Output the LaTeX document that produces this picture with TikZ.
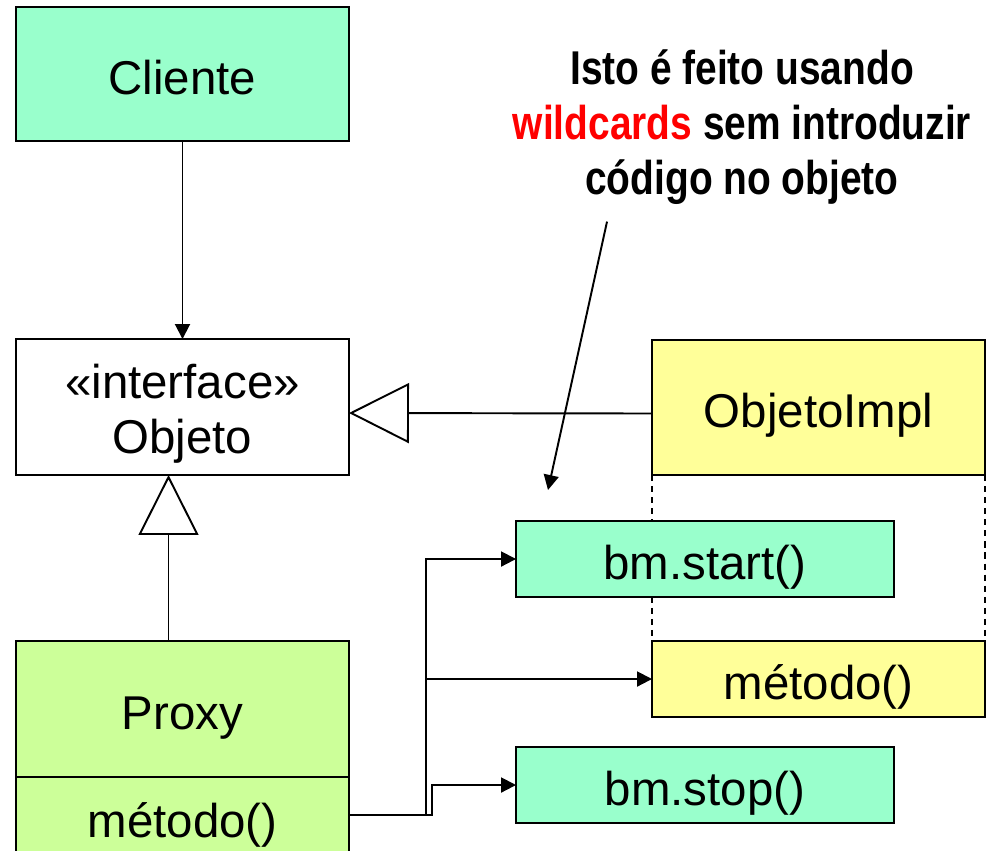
\documentclass[tikz,border=0pt]{standalone}
\usepackage{fontspec}
\setmainfont{Liberation Sans}
\newfontfamily\narrowfont[FakeStretch=0.82]{Liberation Sans}
\usepackage{xcolor}
\usetikzlibrary{arrows.meta, positioning}
\definecolor{mintfill}{HTML}{99FFCC}
\definecolor{implfill}{HTML}{FFFF99}
\definecolor{proxyfill}{HTML}{CCFF99}

\begin{document}
\begin{tikzpicture}[x=0.02cm, y=-0.02cm, line width=1.1pt,
  >={Triangle[length=0.3cm, width=0.3cm]},
  umlbox/.style={draw, line width=1.1pt, inner sep=0pt, outer sep=0pt, align=center, minimum width=6.66cm, font=\fontsize{27}{31}\selectfont},
  oneline/.style={text height=28pt, text depth=5.2pt},
  callbox/.style={draw, line width=1.1pt, inner sep=0pt, outer sep=0pt, fill=mintfill, minimum width=7.56cm, minimum height=1.52cm, oneline, font=\fontsize{27}{31}\selectfont},
  inherit/.style={-{Triangle[open, fill=white, length=1.2cm, width=1.2cm]}},
  dashline/.style={line width=1.1pt, dash pattern=on 3.5pt off 2.8pt}]
  \useasboundingbox (0,0) rectangle (990,850);
  \clip (0,0) rectangle (990,850);
  % UML classes on the left
  \node[umlbox, oneline, fill=mintfill, minimum height=2.68cm] (cliente) at (182.5,74) {Cliente};
  \node[umlbox, fill=white, minimum height=2.72cm] (iface) at (182.5,407) {\rule{0pt}{1em}«interface»\\Objeto};
  \node[umlbox, oneline, fill=proxyfill, minimum height=2.72cm] (proxy) at (182.5,709) {Proxy};
  \node[umlbox, oneline, fill=proxyfill, minimum height=1.6cm, anchor=north] (pmet) at (proxy.south) {método()};
  % implementation and its intercepted calls
  \node[umlbox, oneline, fill=implfill, minimum height=2.7cm] (impl) at (818.5,407.5) {ObjetoImpl};
  \node[umlbox, oneline, fill=implfill, minimum height=1.52cm] (impmet) at (818.5,679) {método()};
  \draw[dashline] (impl.south west) -- (impmet.north west);
  \draw[dashline] (impl.south east) -- (impmet.north east);
  \node[callbox] (start) at (705,559) {bm.start()};
  \node[callbox] (stop) at (705,785) {bm.stop()};
  % note
  \node[align=center, font=\narrowfont\bfseries\fontsize{27}{31.5}\selectfont] (note) at (742,127)
    {Isto é feito usando\\\textcolor{red}{wildcards} sem introduzir\\código no objeto};
  \coordinate (tip) at (548,490);
  % connectors
  \draw[->] (cliente) -- (iface);
  \draw[inherit] ([yshift=-0.12cm]impl.west) -- ([yshift=-0.12cm]iface.east);
  \draw[inherit] ([xshift=-0.28cm]proxy.north) -- ([xshift=-0.28cm]iface.south);
  \coordinate (fork) at (426,815);
  \draw[->] (pmet.east |- fork) -- (fork) |- (start.west);
  \draw[->] (fork |- impmet.west) -- (impmet.west);
  \draw[->] (fork) -- ++(6,0) |- (stop.west);
  \draw[->] ([xshift=-2.7cm, yshift=-0.2cm]note.south) -- (tip);
\end{tikzpicture}
\end{document}
